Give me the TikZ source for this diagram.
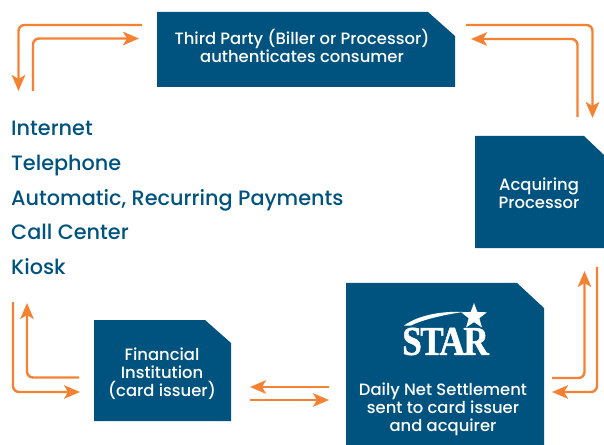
\documentclass[tikz,border=0pt]{standalone}
\usepackage{fontspec}
\setmainfont{Poppins Medium}
\newfontfamily\logofont{Liberation Serif}
\usetikzlibrary{shapes.geometric,arrows.meta}
\definecolor{starblue}{HTML}{00537F}
\definecolor{flowor}{HTML}{F58233}
\newcommand{\cutbox}[3]{\fill[starblue] (#1.north west) -- ([xshift=-#2bp]#1.north east) -- ([yshift=-#3bp]#1.north east) -- (#1.south east) -- (#1.south west) -- cycle;}
\tikzset{
  cbox/.style={rectangle,draw=none,inner sep=0pt,outer sep=0pt},
  lab/.style={text=white,align=center,font=\fontsize{16.4bp}{17.8bp}\selectfont,inner sep=0pt},
  item/.style={text=starblue,anchor=base west,inner sep=0pt,font=\fontsize{20.8bp}{24bp}\selectfont},
  flow/.style={draw=flowor,line width=2.4bp,rounded corners=6bp,-{Stealth[length=16bp,width=13.5bp,inset=4bp]}}
}
\begin{document}
\begin{tikzpicture}[x=1bp,y=-1bp]
\useasboundingbox (0,0) rectangle (604,445);
% boxes
\node[cbox,minimum width=298bp,minimum height=75bp] (third) at (306,49.5) {};
\node[cbox,minimum width=129bp,minimum height=112bp] (acq) at (539.5,192) {};
\node[cbox,minimum width=198bp,minimum height=162bp] (star) at (445,364) {};
\node[cbox,minimum width=137bp,minimum height=101bp] (fi) at (162.5,370.5) {};
\cutbox{third}{27}{24}
\cutbox{acq}{20}{19}
\cutbox{star}{27}{25}
\cutbox{fi}{26}{23}
% labels
\node[lab] (thirdt) at (302,46) {Third Party (Biller or Processor)\\authenticates consumer};
\node[lab] (acqt) at (539,193.5) {Acquiring\\Processor};
\node[lab] (fit) at (162,374) {Financial\\Institution\\(card issuer)};
\node[lab] (start) at (443,409.5) {Daily Net Settlement\\sent to card issuer\\and acquirer};
% logo
\node[text=white,inner sep=0pt,font=\fontsize{41bp}{41bp}\selectfont\logofont\bfseries] (logo) at (445.5,341.5) {\addfontfeatures{FakeStretch=0.86,FakeBold=1.2,LetterSpace=-4}STAR};
\node[star,star points=5,star point ratio=2.4,fill=white,inner sep=0pt,minimum size=27bp] (logostar) at (474,316.5) {};
\fill[white] (404,325.5) .. controls (420,314) and (445,311) .. (463,312) .. controls (442,315) and (422,320) .. (411,325.5) -- cycle;
% list
\node[item] (i1) at (11,135.5) {Internet};
\node[item] (i2) at (11,170.5) {Telephone};
\node[item] (i3) at (11,205.5) {Automatic, Recurring Payments};
\node[item] (i4) at (11,239.5) {Call Center};
\node[item] (i5) at (11,274.5) {Kiosk};
% connector ends
\coordinate (a1s) at (142,25); \coordinate (a1c) at (18.5,25); \coordinate (a1e) at (18.5,91);
\coordinate (a2s) at (33,91); \coordinate (a2c) at (33,38.5); \coordinate (a2e) at (139,38.5);
\coordinate (a3s) at (466,25); \coordinate (a3c) at (592.5,25); \coordinate (a3e) at (592.5,118);
\coordinate (a4s) at (577.5,117); \coordinate (a4c) at (577.5,39); \coordinate (a4e) at (471,39);
\coordinate (b1s) at (552,378); \coordinate (b1c) at (584.5,378); \coordinate (b1e) at (584.5,271);
\coordinate (b2s) at (597,267); \coordinate (b2c) at (597,392); \coordinate (b2e) at (552,392);
\coordinate (c1s) at (13,302); \coordinate (c1c) at (13,392); \coordinate (c1e) at (80,392);
\coordinate (c2s) at (79,377.5); \coordinate (c2c) at (27,377.5); \coordinate (c2e) at (27,303);
\coordinate (d1s) at (329,387); \coordinate (d1e) at (250,387);
\coordinate (d2s) at (250,400); \coordinate (d2e) at (329,400);
\draw[flow] (a1s) -- (a1c) -- (a1e);
\draw[flow] (a2s) -- (a2c) -- (a2e);
\draw[flow] (a3s) -- (a3c) -- (a3e);
\draw[flow] (a4s) -- (a4c) -- (a4e);
\draw[flow] (b1s) -- (b1c) -- (b1e);
\draw[flow] (b2s) -- (b2c) -- (b2e);
\draw[flow] (c1s) -- (c1c) -- (c1e);
\draw[flow] (c2s) -- (c2c) -- (c2e);
\draw[flow] (d1s) -- (d1e);
\draw[flow] (d2s) -- (d2e);
\end{tikzpicture}
\end{document}
